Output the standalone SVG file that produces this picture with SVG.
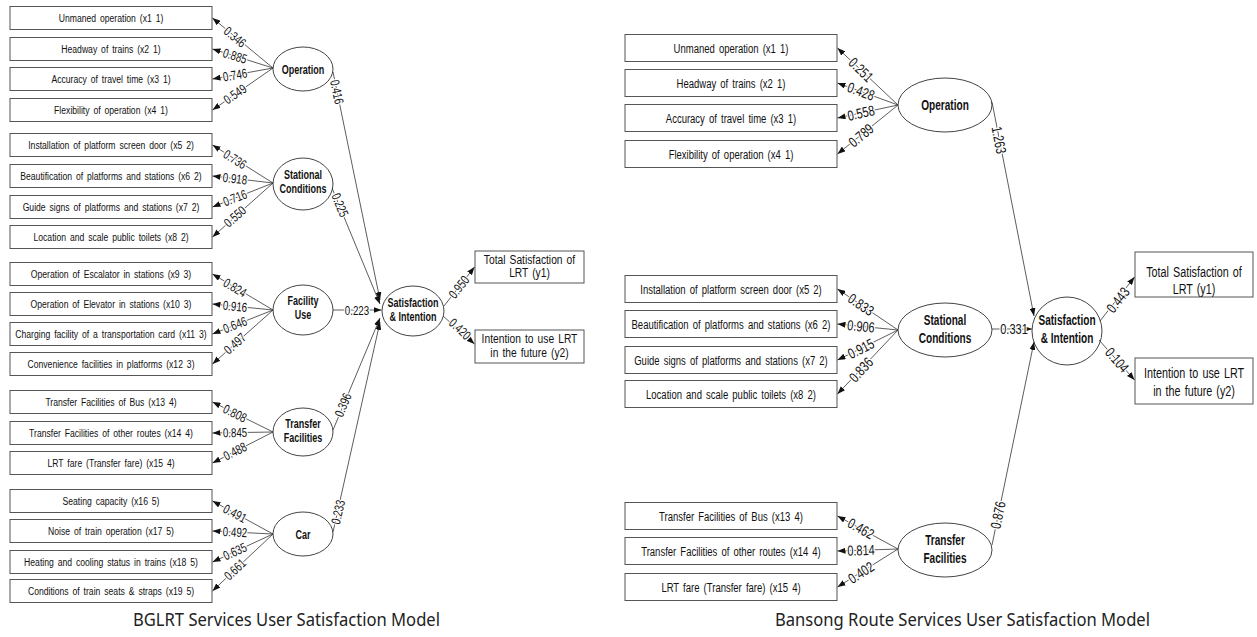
<svg xmlns="http://www.w3.org/2000/svg" width="1257" height="637" viewBox="0 0 1257 637">
<style>
.bx{fill:#fff;stroke:#555;stroke-width:1}
.el{fill:#fff;stroke:#444;stroke-width:1}
.t{font-family:"Liberation Sans",Arial,sans-serif;fill:#111;text-anchor:middle}
.b1{font-size:11.5px;word-spacing:2px}
.b2{font-size:13.5px;word-spacing:2.1px}
.l1{font-size:12.5px;font-weight:bold}
.l2{font-size:14px;font-weight:bold}
.o1{font-size:12.5px;word-spacing:1.5px}
.o2{font-size:15px;word-spacing:1.5px}
.ln{stroke:#333;stroke-width:0.8;fill:none;marker-end:url(#ah)}
.lb{dominant-baseline:central;stroke:#fff;stroke-width:3;paint-order:stroke;stroke-linejoin:round}
.f1{font-size:13px}
.f2{font-size:14.5px}
.cap{font-family:"Noto Sans","Open Sans",sans-serif;font-size:18px;fill:#222}
</style>
<defs>
<marker id="ah" viewBox="0 0 8 6" refX="8" refY="3" markerWidth="8" markerHeight="6" markerUnits="userSpaceOnUse" orient="auto">
<path d="M0,0 L8,3 L0,6 z" fill="#111"/>
</marker>
</defs>
<rect width="1257" height="637" fill="#fff"/>

<!-- LEFT MODEL -->
<g id="L_x1"><rect class="bx" x="10" y="6.5" width="202" height="23"/><text class="t b1" transform="translate(111,22) scale(0.75,1)">Unmaned operation (x1 1)</text></g>
<g id="L_x2"><rect class="bx" x="10" y="37.5" width="202" height="23"/><text class="t b1" transform="translate(111,53) scale(0.75,1)">Headway of trains (x2 1)</text></g>
<g id="L_x3"><rect class="bx" x="10" y="67.5" width="202" height="23"/><text class="t b1" transform="translate(111,83) scale(0.75,1)">Accuracy of travel time (x3 1)</text></g>
<g id="L_x4"><rect class="bx" x="10" y="98.5" width="202" height="23"/><text class="t b1" transform="translate(111,114) scale(0.75,1)">Flexibility of operation (x4 1)</text></g>
<g id="L_x5"><rect class="bx" x="10" y="133.5" width="202" height="23"/><text class="t b1" transform="translate(111,149) scale(0.75,1)">Installation of platform screen door (x5 2)</text></g>
<g id="L_x6"><rect class="bx" x="10" y="164.5" width="202" height="23"/><text class="t b1" transform="translate(111,180) scale(0.75,1)">Beautification of platforms and stations (x6 2)</text></g>
<g id="L_x7"><rect class="bx" x="10" y="195.5" width="202" height="23"/><text class="t b1" transform="translate(111,211) scale(0.75,1)">Guide signs of platforms and stations (x7 2)</text></g>
<g id="L_x8"><rect class="bx" x="10" y="225.5" width="202" height="23"/><text class="t b1" transform="translate(111,241) scale(0.75,1)">Location and scale public toilets (x8 2)</text></g>
<g id="L_x9"><rect class="bx" x="10" y="262.5" width="202" height="23"/><text class="t b1" transform="translate(111,278) scale(0.75,1)">Operation of Escalator in stations (x9 3)</text></g>
<g id="L_x10"><rect class="bx" x="10" y="292.5" width="202" height="23"/><text class="t b1" transform="translate(111,308) scale(0.75,1)">Operation of Elevator in stations (x10 3)</text></g>
<g id="L_x11"><rect class="bx" x="10" y="322.5" width="202" height="23"/><text class="t b1" transform="translate(111,338) scale(0.75,1)">Charging facility of a transportation card (x11 3)</text></g>
<g id="L_x12"><rect class="bx" x="10" y="352.5" width="202" height="23"/><text class="t b1" transform="translate(111,368) scale(0.75,1)">Convenience facilities in platforms (x12 3)</text></g>
<g id="L_x13"><rect class="bx" x="10" y="390.5" width="202" height="23"/><text class="t b1" transform="translate(111,406) scale(0.75,1)">Transfer Facilities of Bus (x13 4)</text></g>
<g id="L_x14"><rect class="bx" x="10" y="421.5" width="202" height="23"/><text class="t b1" transform="translate(111,437) scale(0.75,1)">Transfer Facilities of other routes (x14 4)</text></g>
<g id="L_x15"><rect class="bx" x="10" y="451.5" width="202" height="23"/><text class="t b1" transform="translate(111,467) scale(0.75,1)">LRT fare (Transfer fare) (x15 4)</text></g>
<g id="L_x16"><rect class="bx" x="10" y="489.5" width="202" height="23"/><text class="t b1" transform="translate(111,505) scale(0.75,1)">Seating capacity (x16 5)</text></g>
<g id="L_x17"><rect class="bx" x="10" y="519.5" width="202" height="23"/><text class="t b1" transform="translate(111,535) scale(0.75,1)">Noise of train operation (x17 5)</text></g>
<g id="L_x18"><rect class="bx" x="10" y="550.5" width="202" height="23"/><text class="t b1" transform="translate(111,566) scale(0.75,1)">Heating and cooling status in trains (x18 5)</text></g>
<g id="L_x19"><rect class="bx" x="10" y="579.5" width="202" height="23"/><text class="t b1" transform="translate(111,595) scale(0.75,1)">Conditions of train seats &amp; straps (x19 5)</text></g>

<g id="L_operation"><ellipse class="el" cx="303" cy="69" rx="30" ry="22"/><text class="t l1" transform="translate(303,73.5) scale(0.72,1)">Operation</text></g>
<g id="L_stational"><ellipse class="el" cx="303" cy="184" rx="30" ry="26"/><text class="t l1" transform="translate(303,179) scale(0.72,1)">Stational</text><text class="t l1" transform="translate(303,193) scale(0.72,1)">Conditions</text></g>
<g id="L_facility"><ellipse class="el" cx="303" cy="310" rx="30" ry="25"/><text class="t l1" transform="translate(303,305) scale(0.72,1)">Facility</text><text class="t l1" transform="translate(303,319) scale(0.72,1)">Use</text></g>
<g id="L_transfer"><ellipse class="el" cx="303" cy="432" rx="30" ry="24"/><text class="t l1" transform="translate(303,428) scale(0.72,1)">Transfer</text><text class="t l1" transform="translate(303,442) scale(0.72,1)">Facilities</text></g>
<g id="L_car"><ellipse class="el" cx="303" cy="534" rx="30" ry="22"/><text class="t l1" transform="translate(303,538.5) scale(0.72,1)">Car</text></g>
<g id="L_sat"><ellipse class="el" cx="413" cy="311" rx="31" ry="25"/><text class="t l1" transform="translate(413,307) scale(0.72,1)">Satisfaction</text><text class="t l1" transform="translate(413,321) scale(0.72,1)">&amp; Intention</text></g>
<g id="L_y1"><rect class="bx" x="475" y="251" width="109" height="32"/><text class="t o1" transform="translate(529.5,263.5) scale(0.82,1)">Total Satisfaction of</text><text class="t o1" transform="translate(529.5,277) scale(0.82,1)">LRT (y1)</text></g>
<g id="L_y2"><rect class="bx" x="475" y="330" width="109" height="33"/><text class="t o1" transform="translate(529.5,342.5) scale(0.82,1)">Intention to use LRT</text><text class="t o1" transform="translate(529.5,356.5) scale(0.82,1)">in the future (y2)</text></g>

<!-- RIGHT MODEL -->
<g id="R_x1"><rect class="bx" x="625" y="34.5" width="212" height="27"/><text class="t b2" transform="translate(731,53) scale(0.705,1)">Unmaned operation (x1 1)</text></g>
<g id="R_x2"><rect class="bx" x="625" y="69.5" width="212" height="27"/><text class="t b2" transform="translate(731,88) scale(0.705,1)">Headway of trains (x2 1)</text></g>
<g id="R_x3"><rect class="bx" x="625" y="104.5" width="212" height="27"/><text class="t b2" transform="translate(731,123) scale(0.705,1)">Accuracy of travel time (x3 1)</text></g>
<g id="R_x4"><rect class="bx" x="625" y="140.5" width="212" height="27"/><text class="t b2" transform="translate(731,159) scale(0.705,1)">Flexibility of operation (x4 1)</text></g>
<g id="R_x5"><rect class="bx" x="625" y="275.5" width="212" height="27"/><text class="t b2" transform="translate(731,294) scale(0.705,1)">Installation of platform screen door (x5 2)</text></g>
<g id="R_x6"><rect class="bx" x="625" y="310.5" width="212" height="27"/><text class="t b2" transform="translate(731,329) scale(0.705,1)">Beautification of platforms and stations (x6 2)</text></g>
<g id="R_x7"><rect class="bx" x="625" y="346.5" width="212" height="27"/><text class="t b2" transform="translate(731,365) scale(0.705,1)">Guide signs of platforms and stations (x7 2)</text></g>
<g id="R_x8"><rect class="bx" x="625" y="380.5" width="212" height="27"/><text class="t b2" transform="translate(731,399) scale(0.705,1)">Location and scale public toilets (x8 2)</text></g>
<g id="R_x13"><rect class="bx" x="625" y="502.5" width="212" height="27"/><text class="t b2" transform="translate(731,521) scale(0.705,1)">Transfer Facilities of Bus (x13 4)</text></g>
<g id="R_x14"><rect class="bx" x="625" y="537.5" width="212" height="27"/><text class="t b2" transform="translate(731,556) scale(0.705,1)">Transfer Facilities of other routes (x14 4)</text></g>
<g id="R_x15"><rect class="bx" x="625" y="573.5" width="212" height="27"/><text class="t b2" transform="translate(731,592) scale(0.705,1)">LRT fare (Transfer fare) (x15 4)</text></g>

<g id="R_operation"><ellipse class="el" cx="945" cy="105" rx="47" ry="27"/><text class="t l2" transform="translate(945,110) scale(0.72,1)">Operation</text></g>
<g id="R_stational"><ellipse class="el" cx="945" cy="330" rx="47" ry="27"/><text class="t l2" transform="translate(945,325) scale(0.72,1)">Stational</text><text class="t l2" transform="translate(945,343) scale(0.72,1)">Conditions</text></g>
<g id="R_transfer"><ellipse class="el" cx="945" cy="550" rx="47" ry="27"/><text class="t l2" transform="translate(945,545) scale(0.72,1)">Transfer</text><text class="t l2" transform="translate(945,563) scale(0.72,1)">Facilities</text></g>
<g id="R_sat"><ellipse class="el" cx="1067" cy="331" rx="35" ry="34"/><text class="t l2" transform="translate(1067,325) scale(0.72,1)">Satisfaction</text><text class="t l2" transform="translate(1067,343) scale(0.72,1)">&amp; Intention</text></g>
<g id="R_y1"><rect class="bx" x="1135" y="252" width="118" height="45"/><text class="t o2" transform="translate(1194,277) scale(0.72,1)">Total Satisfaction of</text><text class="t o2" transform="translate(1194,294) scale(0.72,1)">LRT (y1)</text></g>
<g id="R_y2"><rect class="bx" x="1135" y="358" width="118" height="46"/><text class="t o2" transform="translate(1194,378) scale(0.72,1)">Intention to use LRT</text><text class="t o2" transform="translate(1194,396) scale(0.72,1)">in the future (y2)</text></g>

<g id="connectors">
<path class="ln" d="M273,68 L212.5,18"/>
<path class="ln" d="M273,68 L212.5,49"/>
<path class="ln" d="M273,68 L212.5,79"/>
<path class="ln" d="M273,68 L212.5,110"/>
<path class="ln" d="M273,183 L212.5,145"/>
<path class="ln" d="M273,183 L212.5,176"/>
<path class="ln" d="M273,183 L212.5,207"/>
<path class="ln" d="M273,183 L212.5,237"/>
<path class="ln" d="M273,310 L212.5,274"/>
<path class="ln" d="M273,310 L212.5,304"/>
<path class="ln" d="M273,310 L212.5,334"/>
<path class="ln" d="M273,310 L212.5,364"/>
<path class="ln" d="M273,432 L212.5,402"/>
<path class="ln" d="M273,432 L212.5,433"/>
<path class="ln" d="M273,432 L212.5,463"/>
<path class="ln" d="M273,534 L212.5,501"/>
<path class="ln" d="M273,534 L212.5,531"/>
<path class="ln" d="M273,534 L212.5,562"/>
<path class="ln" d="M273,534 L212.5,591"/>
<path class="ln" d="M333,72 L380,300"/>
<path class="ln" d="M332,188 L380,304"/>
<path class="ln" d="M333,310 L381.5,310"/>
<path class="ln" d="M333,430 L380,318"/>
<path class="ln" d="M333,532 L380,322"/>
<path class="ln" d="M444,306 L474.5,267"/>
<path class="ln" d="M443,316 L474.5,344"/>
<path class="ln" d="M898,105 L837.5,48"/>
<path class="ln" d="M898,105 L837.5,83"/>
<path class="ln" d="M898,105 L837.5,118"/>
<path class="ln" d="M898,105 L837.5,154"/>
<path class="ln" d="M898,330 L837.5,289"/>
<path class="ln" d="M898,330 L837.5,324"/>
<path class="ln" d="M898,330 L837.5,360"/>
<path class="ln" d="M898,330 L837.5,394"/>
<path class="ln" d="M898,549 L837.5,516"/>
<path class="ln" d="M898,549 L837.5,551"/>
<path class="ln" d="M898,549 L837.5,587"/>
<path class="ln" d="M992,102 L1034,316"/>
<path class="ln" d="M992,329 L1032,329"/>
<path class="ln" d="M992,545 L1034,342"/>
<path class="ln" d="M1100,321 L1134.5,277"/>
<path class="ln" d="M1099,340 L1134.5,380"/>

<text class="t lb f1" transform="translate(235,37) rotate(39.3) scale(0.75,1)">0.346</text>
<text class="t lb f1" transform="translate(235,56) rotate(17.3) scale(0.75,1)">0.885</text>
<text class="t lb f1" transform="translate(235,75) rotate(-10.2) scale(0.75,1)">0.746</text>
<text class="t lb f1" transform="translate(235,94) rotate(-34.5) scale(0.75,1)">0.549</text>
<text class="t lb f1" transform="translate(235,159.4) rotate(31.9) scale(0.75,1)">0.736</text>
<text class="t lb f1" transform="translate(235,178.7) rotate(6.5) scale(0.75,1)">0.918</text>
<text class="t lb f1" transform="translate(235,197.9) rotate(-21.5) scale(0.75,1)">0.716</text>
<text class="t lb f1" transform="translate(235,216.5) rotate(-41.5) scale(0.75,1)">0.550</text>
<text class="t lb f1" transform="translate(235,287.7) rotate(30.5) scale(0.75,1)">0.824</text>
<text class="t lb f1" transform="translate(235,306.3) rotate(5.6) scale(0.75,1)">0.916</text>
<text class="t lb f1" transform="translate(235,324.9) rotate(-21.5) scale(0.75,1)">0.646</text>
<text class="t lb f1" transform="translate(235,343.5) rotate(-41.5) scale(0.75,1)">0.497</text>
<text class="t lb f1" transform="translate(235,413.4) rotate(26.2) scale(0.75,1)">0.808</text>
<text class="t lb f1" transform="translate(235,432.6) rotate(-0.9) scale(0.75,1)">0.845</text>
<text class="t lb f1" transform="translate(235,451.2) rotate(-26.9) scale(0.75,1)">0.488</text>
<text class="t lb f1" transform="translate(235,513.5) rotate(28.4) scale(0.75,1)">0.491</text>
<text class="t lb f1" transform="translate(235,532.1) rotate(2.8) scale(0.75,1)">0.492</text>
<text class="t lb f1" transform="translate(235,551.4) rotate(-24.7) scale(0.75,1)">0.635</text>
<text class="t lb f1" transform="translate(235,569.3) rotate(-43.1) scale(0.75,1)">0.661</text>
<text class="t lb f1" transform="translate(337,92) rotate(78) scale(0.75,1)">0.416</text>
<text class="t lb f1" transform="translate(340,205) rotate(67.5) scale(0.75,1)">0.225</text>
<text class="t lb f1" transform="translate(357,310) scale(0.75,1)">0.223</text>
<text class="t lb f1" transform="translate(343,405) rotate(-67) scale(0.75,1)">0.396</text>
<text class="t lb f1" transform="translate(338,512) rotate(-77) scale(0.75,1)">0.233</text>
<text class="t lb f1" transform="translate(459,287) rotate(-52) scale(0.75,1)">0.950</text>
<text class="t lb f1" transform="translate(460,329) rotate(43) scale(0.75,1)">0.420</text>
<text class="t lb f2" transform="translate(861,69.7) rotate(44) scale(0.76,1)">0.251</text>
<text class="t lb f2" transform="translate(861,91.4) rotate(20.4) scale(0.76,1)">0.428</text>
<text class="t lb f2" transform="translate(861,113) rotate(-12.4) scale(0.76,1)">0.558</text>
<text class="t lb f2" transform="translate(861,135.4) rotate(-39.7) scale(0.76,1)">0.789</text>
<text class="t lb f2" transform="translate(861,304.6) rotate(34.8) scale(0.76,1)">0.833</text>
<text class="t lb f2" transform="translate(861,326.3) rotate(5.8) scale(0.76,1)">0.906</text>
<text class="t lb f2" transform="translate(861,348.6) rotate(-26.9) scale(0.76,1)">0.915</text>
<text class="t lb f2" transform="translate(861,369.7) rotate(-47.3) scale(0.76,1)">0.836</text>
<text class="t lb f2" transform="translate(861,528.5) rotate(29.2) scale(0.76,1)">0.462</text>
<text class="t lb f2" transform="translate(861,550.2) rotate(-1.9) scale(0.76,1)">0.814</text>
<text class="t lb f2" transform="translate(861,572.6) rotate(-32.8) scale(0.76,1)">0.402</text>
<text class="t lb f2" transform="translate(999,140) rotate(79) scale(0.76,1)">1.263</text>
<text class="t lb f2" transform="translate(1014,329) scale(0.76,1)">0.331</text>
<text class="t lb f2" transform="translate(998,515) rotate(-78.8) scale(0.76,1)">0.876</text>
<text class="t lb f2" transform="translate(1118,300) rotate(-52) scale(0.76,1)">0.443</text>
<text class="t lb f2" transform="translate(1117,360) rotate(49) scale(0.76,1)">0.104</text>
</g>

<text class="cap" x="133" y="626" textLength="307" lengthAdjust="spacingAndGlyphs">BGLRT Services User Satisfaction Model</text>
<text class="cap" x="775" y="626" textLength="375" lengthAdjust="spacingAndGlyphs">Bansong Route Services User Satisfaction Model</text>
</svg>
